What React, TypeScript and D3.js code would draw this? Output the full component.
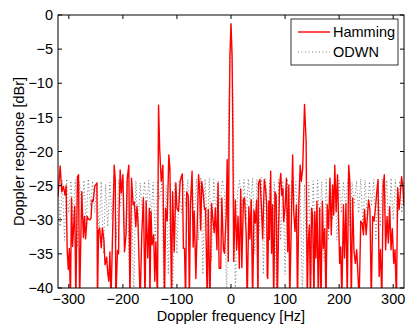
import React from "react";
import * as d3 from "d3";

// Hamming window Doppler response: [frequency Hz, response dBr]
const hammingFreq: number[] = [
  -320, -316, -313, -310, -307, -305, -303, -301, -299, -297, -295, -293, -289, -287, -284, -282, -280, -277, -276, -273,
  -271, -269, -266, -264, -261, -259, -257, -255, -252, -248, -247, -245, -243, -240, -238, -235, -233, -230, -228, -226,
  -224, -222, -216, -214, -213, -210, -208, -207, -205, -203, -200, -197, -194, -192, -189, -187, -184, -181, -179, -176,
  -174, -172, -168, -165, -162, -159, -157, -154, -151, -150, -148, -146, -143, -141, -139, -136, -134, -132, -129, -126,
  -123, -121, -118, -115, -113, -110, -108, -105, -102, -100, -97, -94, -92, -90, -88, -86, -84, -82, -79, -77,
  -75, -72, -70, -68, -65, -60, -58, -56, -54, -52, -49, -47, -44, -42, -39, -36, -34, -31, -29, -26,
  -24, -22, -19, -17, -14, -12, -9, -7, -5, -3.5, -2, 0, 2, 3.5, 5, 8, 10.5, 13, 15.4, 18,
  20, 23, 25, 28, 30, 33, 35, 37.5, 40, 42.5, 45, 47.5, 50, 51, 53.6, 56, 58.6, 61.6, 64, 66,
  67, 68, 70, 71, 73.4, 75, 77, 79, 81.4, 83.5, 85.7, 88, 90, 92, 94, 96, 97.5, 100, 102.5, 105,
  107, 108.6, 111, 114, 116, 118.4, 121, 123, 125.5, 128, 130, 132.6, 136, 139, 141, 143, 145, 147, 149, 151,
  153.5, 155, 157, 159, 161.5, 164, 166.5, 169, 171, 173.5, 175.7, 178, 180.5, 183, 185.5, 188, 190, 192, 194.5, 197,
  201, 203, 205, 208, 210, 212.7, 215, 217.7, 220, 222.5, 225, 227.5, 230, 232.5, 235, 237, 240, 242.5, 245, 247,
  250, 252, 254.5, 257, 259.5, 262, 264.5, 267, 269.5, 272, 274, 276.5, 279, 281.5, 283.6, 286, 288.6, 291, 293.5, 296,
  298.4, 301, 303.4, 306, 308.3, 311, 313, 315.6, 318, 320,
];
const hammingDb: number[] = [
  -26.6, -22.1, -25.9, -25.1, -26.4, -25.0, -34.4, -37.3, -34.2, -42, -26.8, -33.9, -28.0, -42, -23.7, -23.4, -42, -29.5, -25.9, -32.6,
  -29.5, -32.8, -29.5, -29.9, -30.0, -29.8, -27.1, -27.3, -25.1, -24.6, -42, -31.6, -31.2, -34.1, -31.2, -33.0, -36.6, -35.5, -37.8, -39.0,
  -34.7, -42, -22.0, -24.2, -42, -34.5, -35.0, -28.5, -22.7, -26.1, -23.4, -34.7, -32.0, -24.0, -22.0, -42, -23.9, -27.8, -27.4, -31.0,
  -28.0, -30.5, -42, -32.0, -26.8, -42, -27.3, -35.6, -28.3, -42, -28.8, -33.7, -32.2, -39.0, -33.2, -42, -13.2, -19.5, -24.4, -22.0,
  -42, -28.3, -30.2, -20.5, -22.5, -42, -25.9, -34.7, -24.6, -28.3, -28.8, -24.4, -23.7, -23.3, -34.2, -34.2, -42, -25.9, -26.6, -42,
  -27.6, -22.9, -34.0, -28.8, -38.6, -23.4, -25.5, -31.5, -24.4, -25.6, -28.5, -28.3, -42, -28.5, -42, -27.6, -29.5, -31.9, -28.3, -34.4,
  -24.6, -37.1, -37.1, -26.8, -34.4, -34.9, -29.5, -21.2, -36.1, -18.0, -6.0, -1.3, -6.0, -18.0, -36.1, -27.1, -34.4, -29.5, -37.1, -25.5,
  -37.0, -27.0, -26.8, -31.9, -42, -28.1, -32.8, -27.1, -42, -28.6, -30.5, -27.1, -42, -24.6, -24.1, -27.6, -32.8, -24.1, -25.5, -27.8,
  -38.3, -38.6, -27.3, -32.9, -22.9, -34.9, -27.8, -42, -25.9, -26.4, -42, -31.3, -24.9, -23.2, -26.4, -25.4, -30.3, -28.3, -23.9, -34.7,
  -24.9, -42, -32.7, -20.5, -28.8, -31.7, -27.8, -42, -27.3, -22.0, -24.4, -22.5, -13.1, -18.6, -42, -33.2, -30.8, -42, -28.3, -29.3,
  -42, -28.8, -35.6, -27.3, -42, -28.3, -42, -27.3, -34.2, -31.3, -42, -27.8, -31.3, -23.9, -32.2, -24.9, -29.3, -22.0, -28.8, -23.4,
  -36.4, -34.0, -42, -27.8, -35.6, -27.6, -42, -22.0, -24.6, -42, -26.8, -34.6, -36.4, -34.4, -38.3, -42, -30.2, -30.5, -32.2, -28.5,
  -32.2, -29.9, -27.1, -28.5, -42, -29.5, -30.2, -28.5, -26.1, -24.1, -38.3, -34.4, -42, -25.1, -23.4, -34.4, -29.5, -33.4, -28.1, -34.4,
  -31.3, -36.4, -34.4, -42, -25.3, -28.5, -26.4, -23.7, -25.3, -28.0,
];

// ODWN Doppler response sampled every 4 Hz from -320 Hz to 320 Hz
const odwnStartHz = -320;
const odwnStepHz = 4;
const odwnDb: number[] = [
  -24.5, -31, -24.2, -33, -24.0, -29, -24.3, -30, -24.1, -34,
  -24.4, -29, -24.2, -31, -24.0, -28, -24.3, -29, -24.6, -32,
  -24.4, -35, -24.8, -31, -24.5, -30, -24.3, -33, -24.1, -28,
  -24.0, -34, -24.2, -38, -24.5, -42, -24.3, -31, -24.6, -29,
  -24.4, -28, -24.2, -30, -24.5, -33, -24.3, -27, -24.6, -42,
  -24.9, -38, -24.7, -42, -24.5, -35, -24.2, -29, -24.4, -28,
  -24.1, -31, -24.3, -30, -24.0, -33, -23.8, -38, -24.0, -31,
  -23.9, -36, -24.1, -29, -24.3, -28, -24.2, -26, -42, -13,
  -1.2,
  -13, -42, -26, -24.2, -29, -24.1, -30, -24.0, -28, -23.9,
  -35, -24.0, -32, -23.8, -38, -24.0, -30, -24.2, -34, -24.4,
  -42, -24.1, -33, -24.3, -38, -24.0, -30, -24.2, -28, -24.4,
  -32, -24.6, -42, -24.8, -36, -24.5, -38, -24.3, -34, -24.2,
  -31, -24.4, -36, -24.1, -33, -24.3, -30, -24.0, -33, -24.2,
  -29, -24.4, -28, -24.1, -31, -24.5, -28, -24.3, -29, -24.0,
  -31, -24.2, -30, -24.4, -28, -24.1, -33, -24.3, -31, -24.0,
  -29, -24.2, -32, -23.9, -30, -24.1, -31, -24.3, -29, -24.5,
];

const xTicks: number[] = [-300, -200, -100, 0, 100, 200, 300];
const yTicks: number[] = [-40, -35, -30, -25, -20, -15, -10, -5, 0];
const seriesNames: string[] = ["Hamming", "ODWN"];

const W = 406;
const H = 326;
const M = { left: 58, right: 404, top: 15, bottom: 288 };
const FONT = "'Liberation Sans', Arial, Helvetica, sans-serif";

export default function App() {
  const x = d3.scaleLinear().domain([-320, 320]).range([M.left, M.right]);
  const y = d3.scaleLinear().domain([-40, 0]).range([M.bottom, M.top]);

  const hamPts: [number, number][] = hammingFreq.map((f, i) => [f, hammingDb[i]]);
  const odwnPts: [number, number][] = odwnDb.map((v, i) => [odwnStartHz + i * odwnStepHz, v]);

  const line = d3
    .line<[number, number]>()
    .x((d) => x(d[0]))
    .y((d) => y(d[1]));

  const fmt = (v: number) => (v < 0 ? "\u2212" + Math.abs(v) : String(v));
  const tickLen = 4;

  return (
    <svg
      width={W}
      height={H}
      style={{ position: "absolute", left: 0, top: 0, background: "#fff" }}
      fontFamily={FONT}
    >
      <rect x={0} y={0} width={W} height={H} fill="#fff" />
      <defs>
        <clipPath id="plotClip">
          <rect x={M.left} y={M.top} width={M.right - M.left} height={M.bottom - M.top} />
        </clipPath>
      </defs>
      <g clipPath="url(#plotClip)">
        <path
          d={line(odwnPts) || ""}
          fill="none"
          stroke="#222"
          strokeWidth={0.6}
          strokeDasharray="1,2.5"
        />
        <path d={line(hamPts) || ""} fill="none" stroke="#ff0000" strokeWidth={1.4} strokeLinejoin="round" />
      </g>

      {/* axes box */}
      <rect
        x={M.left}
        y={M.top}
        width={M.right - M.left}
        height={M.bottom - M.top}
        fill="none"
        stroke="#000"
        strokeWidth={1}
      />
      {xTicks.map((t) => (
        <g key={"xt" + t}>
          <line x1={x(t)} x2={x(t)} y1={M.bottom} y2={M.bottom - tickLen} stroke="#000" strokeWidth={1} />
          <line x1={x(t)} x2={x(t)} y1={M.top} y2={M.top + tickLen} stroke="#000" strokeWidth={1} />
          <text x={x(t)} y={304} fontSize={14.5} textAnchor="middle" fill="#000">
            {fmt(t)}
          </text>
        </g>
      ))}
      {yTicks.map((t) => (
        <g key={"yt" + t}>
          <line x1={M.left} x2={M.left + tickLen} y1={y(t)} y2={y(t)} stroke="#000" strokeWidth={1} />
          <line x1={M.right} x2={M.right - tickLen} y1={y(t)} y2={y(t)} stroke="#000" strokeWidth={1} />
          <text x={53} y={y(t)} dy="0.36em" fontSize={14.5} textAnchor="end" fill="#000">
            {fmt(t)}
          </text>
        </g>
      ))}
      <text x={(M.left + M.right) / 2} y={321} fontSize={14.5} textAnchor="middle" fill="#000">
        Doppler frequency [Hz]
      </text>
      <text
        transform={`translate(24,${(M.top + M.bottom) / 2}) rotate(-90)`}
        fontSize={14.5}
        textAnchor="middle"
        fill="#000"
      >
        Doppler response [dBr]
      </text>

      {/* legend */}
      <g>
        <rect x={291} y={19} width={107} height={46} fill="#fff" stroke="#000" strokeWidth={0.8} />
        <line x1={298} x2={330} y1={32} y2={32} stroke="#ff0000" strokeWidth={1.4} />
        <text x={333} y={37} fontSize={14.5} fill="#000">
          {seriesNames[0]}
        </text>
        <line x1={298} x2={330} y1={52} y2={52} stroke="#222" strokeWidth={0.6} strokeDasharray="1,2.5" />
        <text x={333} y={57} fontSize={14.5} fill="#000">
          {seriesNames[1]}
        </text>
      </g>
    </svg>
  );
}
